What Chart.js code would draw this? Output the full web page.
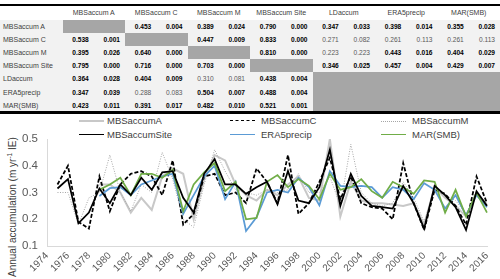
<!DOCTYPE html>
<html><head><meta charset="utf-8">
<script src="https://cdn.jsdelivr.net/npm/chart.js@4/dist/chart.umd.min.js"></script>
<style>
html,body{margin:0;padding:0;background:#fff;width:500px;height:279px;overflow:hidden;font-family:"Liberation Sans",Arial,sans-serif;}
#wrap{position:relative;width:500px;height:279px;}
#chartBox{position:absolute;left:0;top:112px;width:500px;height:167px;}
.leg{position:absolute;font-size:9.5px;color:#404040;white-space:nowrap;line-height:1;}
.legline{position:absolute;height:0;}
#ytitle{position:absolute;font-size:10px;color:#404040;white-space:nowrap;transform-origin:0 0;transform:rotate(-90deg);line-height:1;}
</style></head>
<body><div id="wrap">
<div id="table"></div>
<div id="legend"></div>
<div id="ytitle">Annual accumulation (m yr<sup style="font-size:6.5px;vertical-align:4px">-1</sup> IE)</div>
<div id="chartBox"><canvas id="c" width="500" height="167"></canvas></div>
</div>
<script>
// ---------- table data ----------
const tableNames = ["MBSaccum A","MBSaccum C","MBSaccum M","MBSaccum Site","LDaccum","ERA5precip","MAR(SMB)"];
const tableR = [
  [null,0.453,0.389,0.790,0.347,0.398,0.355],
  [0.538,null,0.447,0.833,0.271,0.261,0.261],
  [0.395,0.640,null,0.810,0.223,0.443,0.404],
  [0.795,0.716,0.703,null,0.346,0.457,0.429],
  [0.364,0.404,0.310,0.438,null,null,null],
  [0.347,0.288,0.504,0.488,null,null,null],
  [0.423,0.391,0.482,0.521,null,null,null]
];
const tableP = [
  [null,0.004,0.024,0.000,0.033,0.014,0.028],
  [0.001,null,0.009,0.000,0.082,0.113,0.113],
  [0.026,0.000,null,0.000,0.223,0.016,0.029],
  [0.000,0.000,0.000,null,0.025,0.004,0.007],
  [0.028,0.009,0.081,0.004,null,null,null],
  [0.039,0.083,0.007,0.004,null,null,null],
  [0.011,0.017,0.010,0.001,null,null,null]
];

// ---------- chart data ----------
const years = [1974,1975,1976,1977,1978,1979,1980,1981,1982,1983,1984,1985,1986,1987,1988,1989,1990,1991,1992,1993,1994,1995,1996,1997,1998,1999,2000,2001,2002,2003,2004,2005,2006,2007,2008,2009,2010,2011,2012,2013,2014,2015,2016];
const mbsA = [null,null,null,null,null,0.33,0.33,0.30,0.225,0.28,0.235,0.36,0.39,0.37,0.20,0.35,0.44,0.42,0.33,0.29,0.27,0.31,0.29,0.33,0.36,0.28,0.27,0.50,0.21,0.34,0.27,0.26,0.26,0.255,0.25,0.26,0.18,0.32,0.28,0.25,0.21,0.30,0.25];
const mbsC = [null,0.33,0.40,0.19,0.165,0.36,0.23,0.33,0.37,0.38,0.36,0.29,0.42,0.18,0.22,0.36,0.37,0.29,0.30,0.26,0.39,0.34,0.26,0.44,0.22,0.26,0.34,0.43,0.275,0.36,0.26,0.245,0.24,0.20,0.41,0.26,0.16,0.31,0.295,0.25,0.18,0.36,0.26];
const mbsM = [null,0.30,0.30,0.18,0.28,0.30,0.44,0.30,0.23,0.33,0.30,0.45,0.35,0.20,0.17,0.33,0.46,0.38,0.31,0.30,0.29,0.31,0.30,0.31,0.37,0.30,0.30,0.36,0.25,0.48,0.30,0.26,0.25,0.26,0.34,0.28,0.19,0.31,0.29,0.27,0.22,0.30,0.26];
const mbsSite = [null,0.315,0.35,0.185,0.225,0.315,0.26,0.33,0.29,0.355,0.31,0.375,0.38,0.28,0.225,0.37,0.425,0.33,0.33,0.295,0.32,0.34,0.256,0.38,0.27,0.26,0.32,0.46,0.25,0.37,0.287,0.25,0.245,0.24,0.325,0.26,0.165,0.325,0.29,0.245,0.16,0.305,0.25];
const era5 = [null,null,null,null,null,0.287,0.316,0.32,0.29,0.33,0.345,0.36,0.37,0.22,0.29,0.36,0.40,0.275,0.34,0.156,0.207,0.30,0.31,0.30,0.355,0.32,0.252,0.38,0.325,0.32,0.325,0.32,0.28,0.32,0.31,0.275,0.335,0.31,0.24,0.29,0.215,0.29,0.245];
const mar = [null,null,null,null,null,0.31,0.33,0.355,0.29,0.37,0.37,0.355,0.385,0.23,0.33,0.375,0.41,0.305,0.34,0.20,0.205,0.34,0.365,0.32,0.35,0.325,0.275,0.37,0.31,0.32,0.35,0.305,0.28,0.34,0.32,0.295,0.345,0.34,0.225,0.31,0.21,0.30,0.225];
const yTicks = [0.1,0.2,0.3,0.4,0.5];

// ---------- build table ----------
(function(){
  const T = document.getElementById('table');
  const rowTop = 19.5, rowH = 13.1, labW = 62.5, grpW = 62.5, sub = 31.25;
  function div(css, html){ const d=document.createElement('div'); d.style.cssText=css; if(html!==undefined) d.innerHTML=html; T.appendChild(d); return d; }
  const bottom = rowTop + rowH*7;
  div(`position:absolute;left:0;top:${rowTop}px;width:500px;height:${bottom-rowTop}px;background:#f2f2f2;`);
  div(`position:absolute;left:0;top:4px;width:500px;height:2px;background:#000;`);
  div(`position:absolute;left:0;top:${bottom}px;width:500px;height:2.5px;background:#000;`);
  tableNames.forEach((n,j)=>{
    div(`position:absolute;left:${labW+j*grpW}px;top:8px;width:${grpW}px;text-align:center;font-size:7px;color:#404040;white-space:nowrap;line-height:9px;`, n);
  });
  for(let i=0;i<4;i++){
    div(`position:absolute;left:${labW+i*grpW}px;top:${rowTop+i*rowH}px;width:${grpW}px;height:${rowH}px;background:#a6a6a6;`);
  }
  div(`position:absolute;left:${labW+4*grpW}px;top:${rowTop+4*rowH}px;width:${3*grpW}px;height:${3*rowH}px;background:#a6a6a6;`);
  tableNames.forEach((n,i)=>{
    const y = rowTop + i*rowH;
    div(`position:absolute;left:3px;top:${y+2.5}px;font-size:7px;color:#404040;white-space:nowrap;line-height:9px;`, n);
    for(let j=0;j<7;j++){
      const r = tableR[i][j], p = tableP[i][j];
      if(r===null) continue;
      const sig = p < 0.05;
      const st = `position:absolute;top:${y+2.5}px;width:${sub-5}px;text-align:right;font-size:6.6px;line-height:9px;white-space:nowrap;color:${sig?'#000':'#595959'};font-weight:${sig?'bold':'normal'};`;
      div(st+`left:${labW+j*grpW}px;`, r.toFixed(3));
      div(st+`left:${labW+j*grpW+sub}px;`, p.toFixed(3));
    }
  });
})();

// ---------- datasets ----------
const series = [
  {label:'MBSaccumA', data:mbsA, color:'#c8c8c8', width:2, dash:[], order:6},
  {label:'MBSaccumC', data:mbsC, color:'#000000', width:1.75, dash:[4,2], order:4},
  {label:'MBSaccumM', data:mbsM, color:'#a6a6a6', width:1, dash:[1,1.5], order:5},
  {label:'MBSaccumSite', data:mbsSite, color:'#000000', width:1.75, dash:[], order:1},
  {label:'ERA5precip', data:era5, color:'#5b9bd5', width:1.75, dash:[], order:3},
  {label:'MAR(SMB)', data:mar, color:'#70ad47', width:1.75, dash:[], order:2}
];

// ---------- legend (HTML) ----------
(function(){
  const L = document.getElementById('legend');
  const cols = [[79,107],[230,261],[381,412]];
  const rows = [121,135];
  series.forEach((s,k)=>{
    const c = cols[k%3], r = rows[Math.floor(k/3)];
    const line = document.createElement('div');
    line.className='legline';
    const style = s.dash.length===0 ? 'solid' : (s.dash[0]>2 ? 'dashed' : 'dotted');
    line.style.cssText = `left:${c[0]}px;top:${r - s.width/2}px;width:25px;border-top:${s.width}px ${style} ${s.color};`;
    L.appendChild(line);
    const t = document.createElement('div');
    t.className='leg';
    t.style.left = c[1]+'px';
    t.style.top = (r-5)+'px';
    t.textContent = s.label;
    L.appendChild(t);
  });
})();

(function(){
  const el = document.getElementById('ytitle');
  const w = el.offsetWidth, h = el.offsetHeight;
  const cy = 207, cx = 12;
  el.style.left = (cx - h/2) + 'px';
  el.style.top = (cy + w/2) + 'px';
})();

// ---------- chart ----------
new Chart(document.getElementById('c'), {
  type:'line',
  data:{
    labels: years,
    datasets: series.map(s=>({
      label:s.label, data:s.data, borderColor:s.color, backgroundColor:s.color,
      borderWidth:s.width, borderDash:s.dash, pointRadius:0, tension:0, fill:false,
      spanGaps:false, order:s.order
    }))
  },
  options:{
    responsive:false, animation:false, devicePixelRatio:1,
    layout:{padding:{top:27,right:13,left:0,bottom:0}},
    plugins:{legend:{display:false}, tooltip:{enabled:false}},
    scales:{
      x:{
        type:'category', offset:false,
        grid:{display:false, drawTicks:false},
        border:{display:true, color:'#d9d9d9', width:1},
        ticks:{autoSkip:false, maxRotation:45, minRotation:45, padding:4, color:'#595959',
          font:{family:'"Liberation Sans", Arial, sans-serif', size:10},
          callback:function(v,i){ const y = years[i]; return (y%2===0) ? String(y) : ''; }},
        afterFit:function(s){ s.height = 33; }
      },
      y:{
        min:0.1, max:0.5,
        grid:{display:false, drawTicks:false},
        border:{display:true, color:'#d9d9d9', width:1},
        ticks:{stepSize:0.1, padding:9, color:'#595959',
          font:{family:'"Liberation Sans", Arial, sans-serif', size:11.5},
          callback:function(v){ return yTicks.some(t=>Math.abs(t-v)<1e-9) ? v.toFixed(1) : ''; }},
        afterFit:function(s){ s.width = 47; }
      }
    }
  }
});
</script>
</body></html>
